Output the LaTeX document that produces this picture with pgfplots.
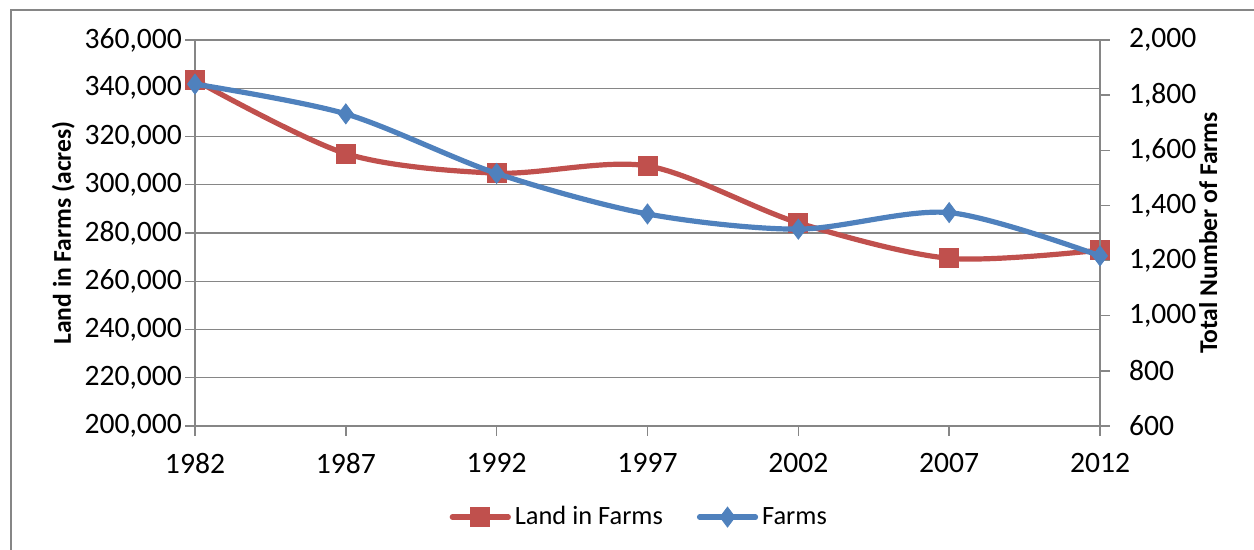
\documentclass[border=0pt]{standalone}
\usepackage{fontspec}
\setmainfont{Carlito}
\usepackage{pgfplots}
\pgfplotsset{compat=1.18}
\definecolor{landred}{RGB}{192,80,77}
\definecolor{farmblue}{RGB}{79,129,189}
\definecolor{gridgray}{RGB}{134,134,134}
\begin{document}
\begin{tikzpicture}[font=\fontsize{13pt}{15.6pt}\selectfont]
\useasboundingbox (0,0) rectangle (627pt,275pt);
\draw[gridgray, line width=0.7pt] (5.5pt,-10pt) rectangle (700pt,270pt);
\pgfplotsset{
 common/.style={
  at={(97.5pt,62pt)}, anchor=south west,
  scale only axis, width=452.5pt, height=193pt,
  xmin=1982, xmax=2012,
  axis line style={gridgray, line width=0.7pt},
  major tick style={gridgray, line width=0.7pt},
  tick align=outside, major tick length=5pt,
  scaled y ticks=false,
  tick label style={font=\fontsize{14.8pt}{18pt}\selectfont},
  label style={font=\fontsize{12.8pt}{15pt}\selectfont\bfseries},
  legend image code/.code={\draw[mark repeat=2,mark phase=2] plot coordinates {(0pt,0pt)(14pt,0pt)(28pt,0pt)};},
 }
}
\begin{axis}[common,
  ymin=200000, ymax=360000,
  ytick={200000,220000,240000,260000,280000,300000,320000,340000,360000},
  yticklabels={{200,000},{220,000},{240,000},{260,000},{280,000},{300,000},{320,000},{340,000},{360,000}},
  yticklabel style={xshift=2pt},
  axis x line*=bottom, axis y line*=left,
  xtick={1982,1987,1992,1997,2002,2007,2012},
  xticklabels={1982,1987,1992,1997,2002,2007,2012},
  xticklabel style={yshift=-5pt},
  ymajorgrids, grid style={gridgray, line width=0.7pt},
  ylabel={Land in Farms (acres)},
  ylabel style={yshift=-2pt},
]
\addplot[landred, line width=2.6pt, line cap=round, smooth, tension=0.5, mark=square*, mark size=4.75pt, mark options={line width=0.4pt}] coordinates {
(1982,343400) (1987,312900) (1992,304800) (1997,307800) (2002,284200) (2007,269500) (2012,272900)};
\end{axis}
\begin{axis}[common,
  ymin=600, ymax=2000,
  ytick={600,800,1000,1200,1400,1600,1800,2000},
  yticklabels={600,800,{1,000},{1,200},{1,400},{1,600},{1,800},{2,000}},
  yticklabel style={xshift=6pt},
  axis x line=none, axis y line*=right,
  ylabel={Total Number of Farms},
  ylabel style={yshift=5.5pt},
  legend style={at={(0.492,-0.236)}, anchor=center, draw=none, fill=none, legend columns=2,
    font=\fontsize{13.2pt}{16pt}\selectfont,
    /tikz/every even column/.append style={column sep=15pt}},
]
\addlegendimage{landred, line width=2.6pt, line cap=round, mark=square*, mark size=4.75pt, mark options={line width=0.4pt}}
\addlegendentry{Land in Farms}
\addplot[farmblue, line width=2.6pt, line cap=round, smooth, tension=0.5, mark=diamond*, mark size=5pt, mark options={line width=0.4pt}] coordinates {
(1982,1840) (1987,1732) (1992,1516) (1997,1369) (2002,1314) (2007,1374) (2012,1217)};
\addlegendentry{Farms}
\end{axis}
\end{tikzpicture}
\end{document}
